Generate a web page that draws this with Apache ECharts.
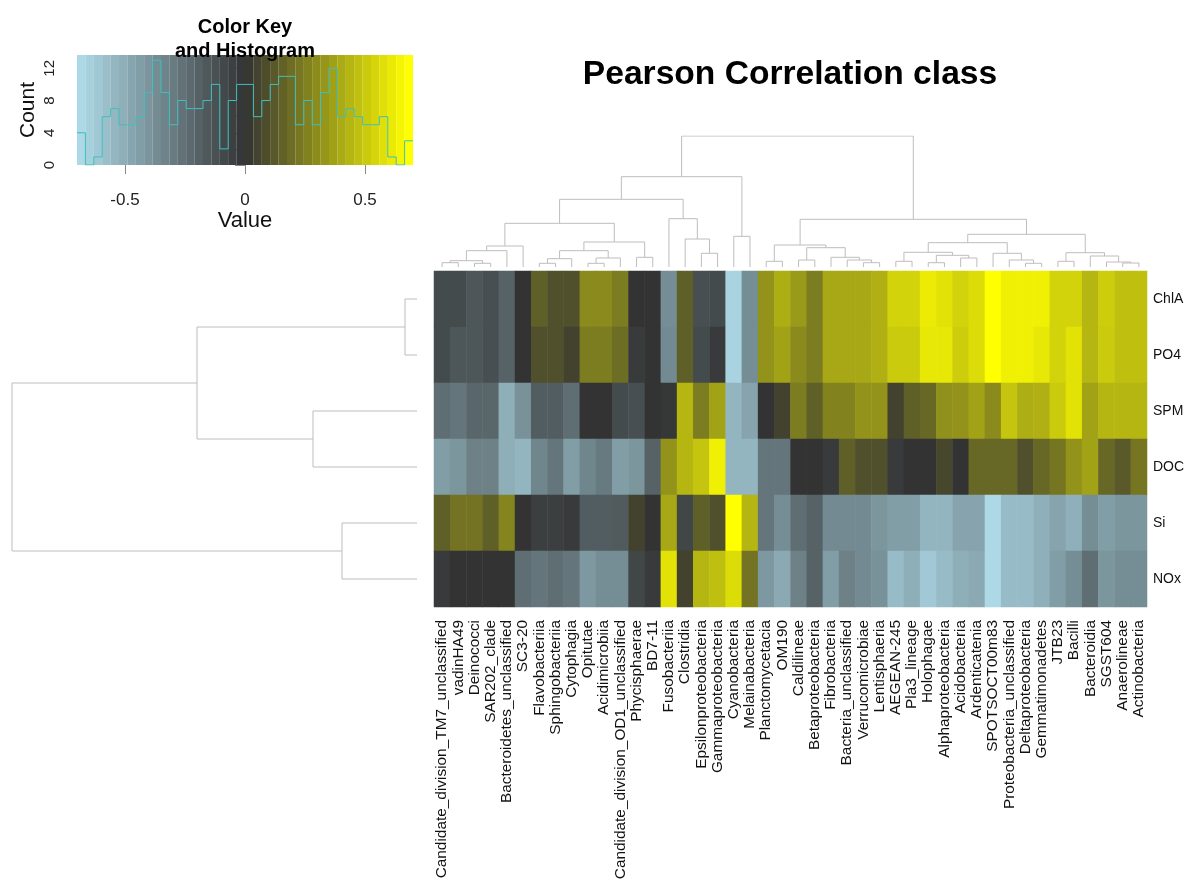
<!DOCTYPE html>
<html>
<head>
<meta charset="utf-8">
<script src="https://cdn.jsdelivr.net/npm/echarts@6/dist/echarts.min.js"></script>
<style>
html, body { margin: 0; padding: 0; background: #fff; }
#main { width: 1194px; height: 886px; }
</style>
</head>
<body>
<div id="main"></div>
<script>
// column (class) labels, in dendrogram order
var colNames = ['Candidate_division_TM7_unclassified', 'vadinHA49', 'Deinococci', 'SAR202_clade',
    'Bacteroidetes_unclassified', 'SC3-20', 'Flavobacteriia', 'Sphingobacteriia', 'Cytophagia',
    'Opitutae', 'Acidimicrobiia', 'Candidate_division_OD1_unclassified', 'Phycisphaerae', 'BD7-11',
    'Fusobacteriia', 'Clostridia', 'Epsilonproteobacteria', 'Gammaproteobacteria', 'Cyanobacteria',
    'Melainabacteria', 'Planctomycetacia', 'OM190', 'Caldilineae', 'Betaproteobacteria',
    'Fibrobacteria', 'Bacteria_unclassified', 'Verrucomicrobiae', 'Lentisphaeria', 'AEGEAN-245',
    'Pla3_lineage', 'Holophagae', 'Alphaproteobacteria', 'Acidobacteria', 'Ardenticatenia',
    'SPOTSOCT00m83', 'Proteobacteria_unclassified', 'Deltaproteobacteria', 'Gemmatimonadetes',
    'JTB23', 'Bacilli', 'Bacteroidia', 'SGST604', 'Anaerolineae', 'Actinobacteria'];
var rowNames = ['ChlA', 'PO4', 'SPM', 'DOC', 'Si', 'NOx'];

// correlation values per row
var chlA = [-0.1, -0.1, -0.15, -0.12, -0.2, 0, 0.15, 0.1, 0.1, 0.3, 0.3, 0.25, 0, 0, -0.38, 0.15, -0.12, -0.1, -0.68, -0.38,
    0.33, 0.42, 0.35, 0.25, 0.4, 0.4, 0.4, 0.43, 0.55, 0.55, 0.63, 0.6, 0.55, 0.58, 0.7, 0.65, 0.65, 0.65, 0.55, 0.55, 0.45, 0.53, 0.48, 0.48];
var po4 = [-0.1, -0.15, -0.15, -0.12, -0.2, 0, 0.1, 0.1, 0.05, 0.25, 0.25, 0.2, -0.03, 0, -0.37, 0.15, -0.1, -0.03, -0.68, -0.38,
    0.33, 0.38, 0.3, 0.25, 0.4, 0.4, 0.4, 0.43, 0.52, 0.52, 0.62, 0.62, 0.53, 0.58, 0.7, 0.65, 0.65, 0.62, 0.55, 0.6, 0.45, 0.52, 0.48, 0.48];
var spm = [-0.25, -0.28, -0.22, -0.22, -0.52, -0.4, -0.18, -0.18, -0.25, 0, 0, -0.1, -0.12, 0, -0.02, 0.45, 0.25, 0.38, -0.55, -0.48,
    0, 0.05, 0.25, 0.15, 0.27, 0.27, 0.33, 0.33, 0.05, 0.15, 0.18, 0.32, 0.33, 0.38, 0.3, 0.5, 0.42, 0.43, 0.52, 0.6, 0.38, 0.45, 0.45, 0.45];
var doc = [-0.45, -0.42, -0.33, -0.33, -0.52, -0.55, -0.35, -0.28, -0.45, -0.35, -0.3, -0.45, -0.42, -0.2, 0.33, 0.45, 0.5, 0.65, -0.55, -0.55,
    -0.28, -0.28, 0, 0, -0.03, 0.15, 0.1, 0.1, -0.03, 0, 0, 0.07, 0, 0.18, 0.18, 0.18, 0.1, 0.18, 0.23, 0.33, 0.38, 0.18, 0.13, 0.23];
var si = [0.15, 0.22, 0.22, 0.15, 0.28, 0, -0.05, -0.05, -0.03, -0.18, -0.18, -0.17, 0.05, 0, 0.4, -0.08, 0.15, 0.1, 0.7, 0.45,
    -0.28, -0.38, -0.25, -0.2, -0.37, -0.37, -0.37, -0.42, -0.45, -0.45, -0.55, -0.55, -0.48, -0.48, -0.7, -0.58, -0.58, -0.53, -0.48, -0.53, -0.38, -0.45, -0.42, -0.42];
var nox = [-0.03, 0, 0, 0, 0, -0.25, -0.28, -0.25, -0.28, -0.43, -0.38, -0.38, -0.08, -0.03, 0.6, 0.05, 0.45, 0.48, 0.58, 0.22,
    -0.43, -0.5, -0.33, -0.2, -0.45, -0.33, -0.37, -0.4, -0.58, -0.52, -0.63, -0.58, -0.52, -0.5, -0.7, -0.58, -0.58, -0.53, -0.45, -0.38, -0.25, -0.42, -0.38, -0.38];

// histogram in the colour key (40 bins from -0.7 to 0.7)
var histCounts = [4, 0, 1, 6, 7, 5, 5, 6, 9, 13, 9, 5, 8, 7, 7, 8, 10, 2, 8, 10,
    10, 6, 8, 10, 11, 11, 5, 8, 5, 9, 12, 6, 7, 6, 5, 5, 6, 1, 0, 3];
var keyMin = -0.7, keyMax = 0.7;
var keySteps = 40;

// dendrograms: [left, right, height], leaves are indices
var colTree = [
    [[[[[[[0, 1, 4.3], [2, 3, 3.7], 6.3], 4, 16.3], 5, 21],
      [[[[6, 7, 3.7], 8, 8.3], [[9, 10, 3.7], 11, 9], 16.3], [12, 13, 9.7], 25], 43.7],
     [14, [15, [16, 17, 13.7], 28], 48.3], 67.7],
    [18, 19, 30.7], 90.3],
    [[[20, 21, 5.7], [[22, 23, 7], [24, [25, [26, 27, 4.3], 7], 9.7], 19.3], 22],
     [[[[28, 29, 5.7], [[30, 31, 4.3], [32, 33, 9], 11.7], 14.7], [34, [35, [36, 37, 3.7], 7], 13.7], 24.3],
      [[38, 39, 5.7], [40, [41, [42, 43, 4], 5], 11], 14.3], 32.7], 47.7],
    131];
var rowTree = [[[0, 1, 12], [2, 3, 104], 220], [4, 5, 75], 405];

var lowCol = [173, 216, 230], midCol = [51, 51, 51], highCol = [255, 255, 0];

function scaleColor(v) {
    var a = midCol, b, t;
    if (v < 0) { b = lowCol; t = v / keyMin; } else { b = highCol; t = v / keyMax; }
    t = Math.max(0, Math.min(1, t));
    var c = [0, 1, 2].map(function (k) { return Math.round(a[k] + (b[k] - a[k]) * t); });
    return 'rgb(' + c.join(',') + ')';
}

function dendro(node, out, swap) {
    if (typeof node === 'number') return { pos: node + 0.5, h: 0 };
    var l = dendro(node[0], out, swap), r = dendro(node[1], out, swap), h = node[2];
    var pts = [[l.pos, l.h], [l.pos, h], [r.pos, h], [r.pos, r.h]];
    if (swap) pts = pts.map(function (p) { return [p[1], p[0]]; });
    out.push({ coords: pts });
    return { pos: (l.pos + r.pos) / 2, h: h };
}

var matrix = [chlA, po4, spm, doc, si, nox];
var heatData = [];
matrix.forEach(function (row, r) {
    row.forEach(function (v, c) { heatData.push([c, r, v]); });
});

var colSegs = [], rowSegs = [];
dendro(colTree, colSegs, false);
dendro(rowTree, rowSegs, true);

var stripeIdx = [], stripeVals = [];
for (var i = 0; i < keySteps; i++) {
    stripeIdx.push(i);
    stripeVals.push(13.65);
}
var binW = (keyMax - keyMin) / histCounts.length;
var histLine = histCounts.map(function (c, i) { return [keyMin + i * binW, c]; });
histLine.push([keyMax, histCounts[histCounts.length - 1]]);

var font = 'Liberation Sans, Arial, sans-serif';
var dendroStyle = { color: '#bdbdbd', width: 1, opacity: 1 };
var myChart = echarts.init(document.getElementById('main'));

myChart.setOption({
    backgroundColor: '#ffffff',
    animation: false,
    textStyle: { fontFamily: font },
    title: [{
        text: 'Pearson Correlation class',
        left: 785, top: 53, textAlign: 'center',
        textStyle: { fontSize: 33.6, fontWeight: 'bold', color: '#000', fontFamily: font }
    }, {
        text: 'Color Key\nand Histogram',
        left: 240, top: 10, textAlign: 'center',
        textStyle: { fontSize: 20, lineHeight: 24, fontWeight: 'bold', color: '#000', fontFamily: font }
    }],
    visualMap: {
        show: false, type: 'continuous', seriesIndex: 0, dimension: 2,
        min: keyMin, max: keyMax,
        inRange: { color: ['#add8e6', '#333333', '#ffff00'] }
    },
    grid: [
        { left: 434, top: 271, width: 713, height: 336, outerBoundsMode: 'none' },
        { left: 434, top: 136, width: 713, height: 131, outerBoundsMode: 'none' },
        { left: 12, top: 271, width: 405, height: 336, outerBoundsMode: 'none' },
        { left: 77, top: 55, width: 336, height: 110, outerBoundsMode: 'none' }
    ],
    xAxis: [{
        gridIndex: 0, type: 'category', data: colNames,
        axisLine: { show: false }, axisTick: { show: false },
        axisLabel: { interval: 0, rotate: 90, margin: 13, fontSize: 15.4, color: '#111', fontFamily: font, hideOverlap: false }
    }, {
        gridIndex: 1, type: 'value', min: 0, max: 44, show: false
    }, {
        gridIndex: 2, type: 'value', min: 0, max: 405, inverse: true, show: false
    }, {
        gridIndex: 3, type: 'value', min: keyMin, max: keyMax, offset: 2,
        name: 'Value', nameLocation: 'middle', nameGap: 40,
        nameTextStyle: { fontSize: 22, color: '#111', fontFamily: font },
        axisLine: { show: false }, splitLine: { show: false },
        axisTick: { show: true, length: 9, lineStyle: { color: '#888' }, customValues: [-0.5, 0, 0.5] },
        axisLabel: { margin: 25, fontSize: 17, color: '#222', fontFamily: font, customValues: [-0.5, 0, 0.5] }
    }, {
        gridIndex: 3, type: 'category', data: stripeIdx, show: false, boundaryGap: true
    }],
    yAxis: [{
        gridIndex: 0, type: 'category', data: rowNames, inverse: true, position: 'right',
        axisLine: { show: false }, axisTick: { show: false },
        axisLabel: { margin: 6, fontSize: 14, color: '#111', fontFamily: font }
    }, {
        gridIndex: 1, type: 'value', min: 0, max: 131, show: false
    }, {
        gridIndex: 2, type: 'value', min: 0, max: 6, inverse: true, show: false
    }, {
        gridIndex: 3, type: 'value', min: 0, max: 13.65,
        name: 'Count', nameLocation: 'middle', nameGap: 38, nameRotate: 90,
        nameTextStyle: { fontSize: 21, color: '#111', fontFamily: font },
        axisLine: { show: false }, splitLine: { show: false },
        axisTick: { show: true, length: 10, lineStyle: { color: '#888' }, customValues: [0, 2, 4, 6, 8, 10, 12] },
        axisLabel: { rotate: 90, margin: 20, fontSize: 15, color: '#222', fontFamily: font, customValues: [0, 4, 8, 12] }
    }],
    series: [{
        type: 'heatmap', xAxisIndex: 0, yAxisIndex: 0, data: heatData,
        itemStyle: { borderWidth: 0 }, silent: true
    }, {
        type: 'lines', coordinateSystem: 'cartesian2d', xAxisIndex: 1, yAxisIndex: 1,
        polyline: true, data: colSegs, lineStyle: dendroStyle, silent: true
    }, {
        type: 'lines', coordinateSystem: 'cartesian2d', xAxisIndex: 2, yAxisIndex: 2,
        polyline: true, data: rowSegs, lineStyle: dendroStyle, silent: true
    }, {
        type: 'bar', xAxisIndex: 4, yAxisIndex: 3, data: stripeVals,
        barWidth: '101%', barCategoryGap: '0%', silent: true,
        itemStyle: {
            color: function (p) {
                return scaleColor(keyMin + (keyMax - keyMin) * p.dataIndex / (keySteps - 1));
            }
        }
    }, {
        type: 'line', xAxisIndex: 3, yAxisIndex: 3, data: histLine, step: 'end',
        symbol: 'none', silent: true, z: 5,
        lineStyle: { color: '#3fbfbf', width: 1 }
    }]
});
</script>
</body>
</html>
